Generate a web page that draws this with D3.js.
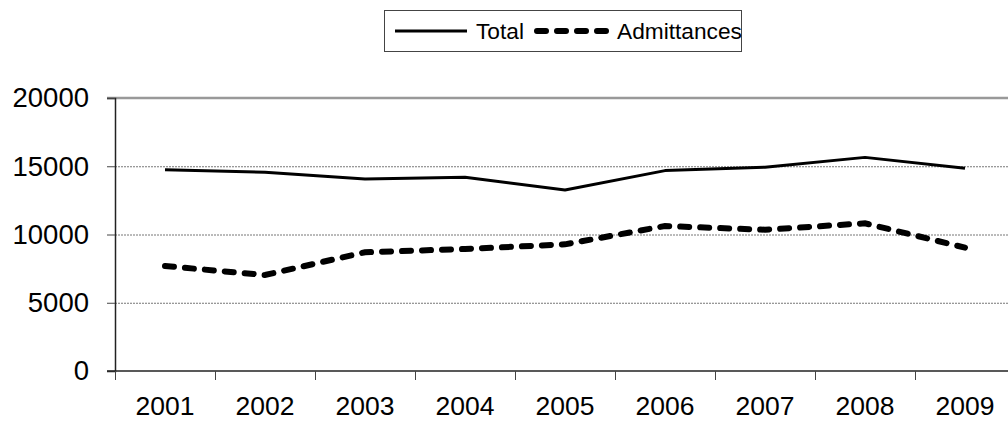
<!DOCTYPE html>
<html>
<head>
<meta charset="utf-8">
<script src="https://cdn.jsdelivr.net/npm/d3@7"></script>
<style>
  html, body { margin: 0; padding: 0; background: #fff; }
  svg { display: block; font-family: "Liberation Sans", Arial, sans-serif; }
</style>
</head>
<body>
<svg id="chart" width="1008" height="421"></svg>
<script>
const years = ["2001","2002","2003","2004","2005","2006","2007","2008","2009"];
const totalValues = [14750, 14560, 14070, 14190, 13260, 14680, 14930, 15650, 14850];
const admittanceValues = [7690, 7030, 8700, 8940, 9280, 10620, 10350, 10820, 9040];
const yTicks = [0, 5000, 10000, 15000, 20000];
const seriesNames = ["Total", "Admittances"];

(function () {
const svg = d3.select("#chart");
const pLeft = 115, pRight = 1015, pTop = 98, pBottom = 371;

const x = d3.scaleBand().domain(years).range([pLeft, pRight]).padding(0);
const y = d3.scaleLinear().domain([0, 20000]).range([pBottom, pTop]);

// gridlines
svg.append("g").selectAll("line")
  .data(yTicks.filter(d => d > 0 && d < 20000))
  .join("line")
  .attr("x1", pLeft).attr("x2", pRight)
  .attr("y1", d => y(d) + 0.5).attr("y2", d => y(d) + 0.5)
  .attr("stroke", "#777").attr("stroke-width", 1)
  .attr("stroke-dasharray", "2,1");

// top border
svg.append("line")
  .attr("x1", pLeft - 8).attr("x2", pRight)
  .attr("y1", y(20000)).attr("y2", y(20000))
  .attr("stroke", "#999").attr("stroke-width", 2.5);

// y axis
const yAxis = d3.axisLeft(y).tickValues(yTicks).tickSize(8).tickPadding(18)
  .tickFormat(d3.format("d"));
const gy = svg.append("g").attr("transform", `translate(${pLeft},0)`).call(yAxis);
gy.select(".domain").attr("stroke", "#222").attr("stroke-width", 1.5);
gy.selectAll(".tick line").attr("stroke", "#444");
gy.selectAll(".tick text").attr("font-size", 27.5).attr("fill", "#000")
  .attr("font-family", "Liberation Sans, Arial, sans-serif");

// x axis (ticks at category boundaries)
const gx = svg.append("g").attr("transform", `translate(0,${pBottom})`);
gx.append("line").attr("x1", pLeft - 8).attr("x2", pRight)
  .attr("y1", 0).attr("y2", 0).attr("stroke", "#222").attr("stroke-width", 1.5);
gx.selectAll("line.tk").data(years).join("line").attr("class", "tk")
  .attr("x1", d => x(d) + 0.5).attr("x2", d => x(d) + 0.5)
  .attr("y1", 0).attr("y2", 9).attr("stroke", "#444");
gx.selectAll("text").data(years).join("text")
  .attr("x", d => x(d) + x.bandwidth() / 2)
  .attr("y", 43.5)
  .attr("text-anchor", "middle")
  .attr("font-size", 26.5)
  .attr("fill", "#000")
  .text(d => d);

// lines
const line = d3.line()
  .x((d, i) => x(years[i]) + x.bandwidth() / 2)
  .y(d => y(d));

svg.append("path").datum(totalValues)
  .attr("d", line).attr("fill", "none")
  .attr("stroke", "#000").attr("stroke-width", 3)
  .attr("stroke-linejoin", "round");

svg.append("path").datum(admittanceValues)
  .attr("d", line).attr("fill", "none")
  .attr("stroke", "#000").attr("stroke-width", 6)
  .attr("stroke-linecap", "round")
  .attr("stroke-dasharray", "9,11");

// legend
const lg = svg.append("g");
lg.append("rect").attr("x", 384.5).attr("y", 10.5).attr("width", 357).attr("height", 41)
  .attr("fill", "#fff").attr("stroke", "#444").attr("stroke-width", 1);
lg.append("line").attr("x1", 395).attr("x2", 467).attr("y1", 31).attr("y2", 31)
  .attr("stroke", "#000").attr("stroke-width", 3);
lg.append("text").attr("x", 476).attr("y", 39).attr("font-size", 22.7).text(seriesNames[0]);
lg.append("line").attr("x1", 537).attr("x2", 607).attr("y1", 31).attr("y2", 31)
  .attr("stroke", "#000").attr("stroke-width", 6)
  .attr("stroke-linecap", "round").attr("stroke-dasharray", "9,11");
lg.append("text").attr("x", 617).attr("y", 39).attr("font-size", 22.7).text(seriesNames[1]);
})();
</script>
</body>
</html>
